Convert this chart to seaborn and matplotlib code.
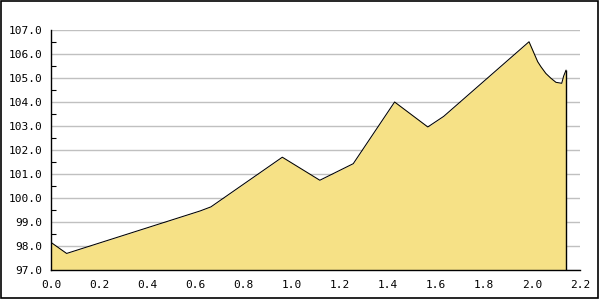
import matplotlib
matplotlib.use("Agg")
import matplotlib.pyplot as plt
import seaborn as sns
import pandas as pd
from matplotlib.patches import Rectangle
from matplotlib.ticker import MultipleLocator, FormatStrFormatter

# data
dist = [0.0, 0.065, 0.62, 0.665, 0.962, 1.118, 1.257, 1.429, 1.567, 1.633,
        1.988, 2.024, 2.0375, 2.058, 2.079, 2.1, 2.124, 2.132, 2.142]
value = [98.15, 97.69, 99.46, 99.63, 101.70, 100.74, 101.43, 104.0, 102.96, 103.4,
         106.51, 105.68, 105.47, 105.19, 104.99, 104.82, 104.78, 105.08, 105.33]
x_ticks = [0.0, 0.2, 0.4, 0.6, 0.8, 1.0, 1.2, 1.4, 1.6, 1.8, 2.0, 2.2]
y_ticks = [97.0, 98.0, 99.0, 100.0, 101.0, 102.0, 103.0, 104.0, 105.0, 106.0, 107.0]

df = pd.DataFrame({"dist": dist, "value": value})

sns.set_theme(style="white")
plt.rcParams['font.family'] = ['DejaVu Sans Mono', 'DejaVu Sans']

fig = plt.figure(figsize=(6, 3), dpi=100)
ax = fig.add_axes([51/600, 30/300, 529/600, 240/300])

ymin, ymax = y_ticks[0], y_ticks[-1]
ax.fill_between(df["dist"], df["value"], ymin, color="#F6E186", lw=0, zorder=2)
sns.lineplot(data=df, x="dist", y="value", ax=ax, color="black", lw=0.75,
             zorder=3, estimator=None, sort=False)
ax.vlines(df["dist"].iloc[-1], ymin, df["value"].iloc[-1], color="black", lw=1.0, zorder=3)

ax.set_xlim(x_ticks[0], x_ticks[-1])
ax.set_ylim(ymin, ymax)
ax.set_xticks(x_ticks)
ax.set_yticks(y_ticks)
ax.yaxis.set_minor_locator(MultipleLocator(0.5))
ax.xaxis.set_major_formatter(FormatStrFormatter("%.1f"))
ax.yaxis.set_major_formatter(FormatStrFormatter("%.1f"))
ax.set_xlabel("")
ax.set_ylabel("")

ax.grid(axis="y", which="major", color="#c0c0c0", lw=1.0, zorder=1)
ax.grid(axis="x", visible=False)
ax.set_axisbelow(True)

for s in ["top", "right"]:
    ax.spines[s].set_visible(False)
for s in ["left", "bottom"]:
    ax.spines[s].set_color("black")
    ax.spines[s].set_linewidth(1.0)
    ax.spines[s].set_zorder(4)

ax.tick_params(axis="both", which="both", direction="in", colors="black",
               labelsize=8, width=0.8)
ax.tick_params(axis="both", which="major", length=4)
ax.tick_params(axis="y", which="minor", length=3.5, left=True)
ax.tick_params(axis="x", which="major", pad=7)
ax.tick_params(axis="y", which="major", pad=6)

fig.patches.append(Rectangle((1/600, 2.5/300), 597/600, 296.5/300,
                             transform=fig.transFigure, fill=False,
                             edgecolor="black", lw=1.2))

fig.savefig("out.png", dpi=100, facecolor="white")
